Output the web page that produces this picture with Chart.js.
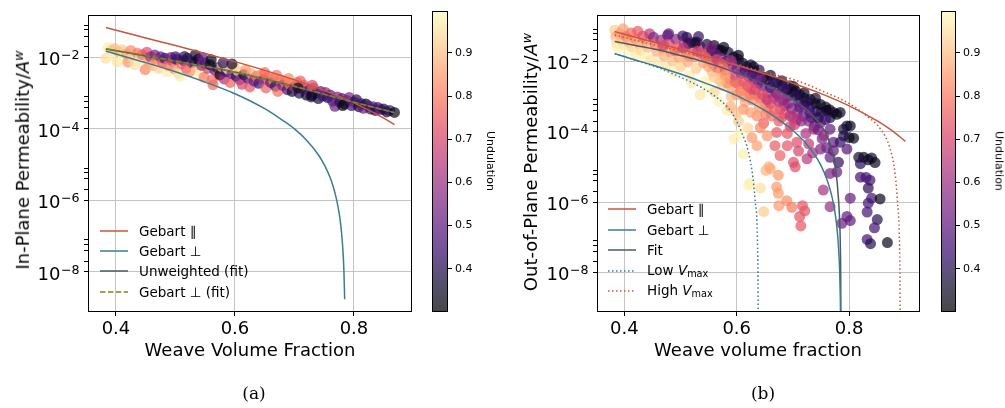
<!DOCTYPE html>
<html>
<head>
<meta charset="utf-8">
<script src="https://cdn.jsdelivr.net/npm/chart.js@4.4.0/dist/chart.umd.min.js"></script>
<style>
  body { margin: 0; background: #fff; }
  #page { position: relative; width: 1005px; height: 408px; overflow: hidden; background: #fff; font-family: 'DejaVu Sans', sans-serif; }
  canvas { position: absolute; top: 0; }
  .lbl { position: absolute; white-space: nowrap; color: #000; transform: translate(-50%, -50%); line-height: 1.2; }
  .ax { font-size: 18px; }
  .ylab { transform: translate(-50%, -50%) rotate(-90deg); }
  .cbl { font-size: 11px; transform: translate(-50%, -50%) rotate(90deg); }
  .cap { font-family: 'DejaVu Serif', serif; font-size: 17px; }
  .leg { position: absolute; font-size: 13.5px; white-space: nowrap; transform: translateY(-50%); line-height: 1.2; color: #000; }
  .sw { position: absolute; overflow: visible; }
  sub { font-size: 0.72em; vertical-align: -0.25em; }
  sup { font-size: 0.7em; vertical-align: 0.45em; }
</style>
</head>
<body>
<div id="page">
  <canvas id="chartA" width="425" height="370" style="left:0px"></canvas>
  <canvas id="cbarA" width="75" height="330" style="left:425px"></canvas>
  <canvas id="chartB" width="430" height="370" style="left:500px"></canvas>
  <canvas id="cbarB" width="71" height="330" style="left:934px"></canvas>

  <div class="lbl ax ylab" style="left:22px;top:160px">In-Plane Permeability/<i>A<sup>w</sup></i></div>
  <div class="lbl ax" style="left:250px;top:350px">Weave Volume Fraction</div>
  <div class="lbl cbl" style="left:490px;top:161px">Undulation</div>
  <div class="lbl cap" style="left:254px;top:393px">(a)</div>

  <div class="lbl ax ylab" style="left:530px;top:162px">Out-of-Plane Permeability/<i>A<sup>w</sup></i></div>
  <div class="lbl ax" style="left:758px;top:350px">Weave volume fraction</div>
  <div class="lbl cbl" style="left:999px;top:161px">Undulation</div>
  <div class="lbl cap" style="left:763px;top:393px">(b)</div>
</div>
<script>
// ---- axes ----
const xTicks = [0.4, 0.6, 0.8];
const yMajorTicks = [1e-8, 1e-6, 1e-4, 1e-2];
const yMajorExponents = ['−8', '−6', '−4', '−2'];
const yMinorSubs = [2, 4, 6, 8];
const colorbarTicks = [0.4, 0.5, 0.6, 0.7, 0.8, 0.9];
const undulationRange = [0.30, 0.997];

// ---- (a) in-plane scatter ----
const inPlaneVf = [
  0.383,0.387,0.392,0.395,0.398,0.402,0.405,0.410,0.412,0.418,
  0.420,0.425,0.428,0.432,0.436,0.440,0.444,0.449,0.452,0.455,
  0.458,0.462,0.465,0.468,0.472,0.475,0.478,0.482,0.486,0.488,
  0.492,0.495,0.498,0.502,0.505,0.508,0.510,0.514,0.518,0.520,
  0.524,0.528,0.532,0.535,0.538,0.541,0.544,0.548,0.550,0.554,
  0.558,0.562,0.563,0.566,0.570,0.573,0.575,0.578,0.582,0.585,
  0.588,0.592,0.595,0.598,0.602,0.605,0.608,0.612,0.615,0.618,
  0.622,0.625,0.628,0.632,0.636,0.640,0.644,0.648,0.652,0.655,
  0.660,0.664,0.668,0.672,0.676,0.680,0.684,0.688,0.692,0.696,
  0.700,0.704,0.708,0.712,0.716,0.720,0.724,0.728,0.732,0.736,
  0.740,0.744,0.748,0.752,0.756,0.760,0.764,0.768,0.772,0.776,
  0.780,0.784,0.788,0.792,0.796,0.800,0.804,0.808,0.812,0.816,
  0.820,0.824,0.828,0.832,0.836,0.840,0.845,0.850,0.855,0.860,
  0.868,0.500,0.515,0.533,0.545,0.560,0.580,0.595,0.650,0.670,
  0.690,0.710,0.730,0.706,0.729,0.781
];
const inPlaneK = [
  9.5e-3,1.9e-2,1.58e-2,1.12e-2,1.78e-2,7.6e-3,1.41e-2,1.66e-2,1.0e-2,1.26e-2,
  7.4e-3,1.58e-2,1.05e-2,6.3e-3,1.32e-2,8.9e-3,1.2e-2,4.6e-3,1.41e-2,7.6e-3,
  1.05e-2,6.0e-3,1.17e-2,8.3e-3,5.0e-3,1.05e-2,7.1e-3,9.5e-3,4.0e-3,6.0e-3,
  1.0e-2,7.9e-3,4.8e-3,8.9e-3,3.5e-3,3.0e-3,6.6e-3,8.3e-3,5.0e-3,9.5e-3,
  4.0e-3,7.1e-3,7.6e-3,4.5e-3,8.9e-3,3.3e-3,6.0e-3,2.8e-3,6.9e-3,5.0e-3,
  6.3e-3,2.4e-3,1.74e-3,4.5e-3,5.2e-3,3.2e-3,3.3e-3,5.6e-3,2.5e-3,4.0e-3,
  4.8e-3,2.0e-3,3.5e-3,5.2e-3,3.0e-3,4.2e-3,2.4e-3,1.78e-3,3.3e-3,4.5e-3,
  2.6e-3,1.5e-3,3.5e-3,2.2e-3,3.0e-3,1.9e-3,3.3e-3,2.4e-3,1.41e-3,2.8e-3,
  2.0e-3,2.5e-3,1.58e-3,1.12e-3,2.4e-3,1.66e-3,2.1e-3,1.26e-3,1.78e-3,1.12e-3,
  1.5e-3,2.0e-3,1.0e-3,1.32e-3,1.66e-3,8.9e-4,1.2e-3,7.9e-4,1.41e-3,1.0e-3,
  7.1e-4,1.12e-3,8.3e-4,1.05e-3,7.6e-4,8.9e-4,6.0e-4,4.3e-4,7.9e-4,5.6e-4,
  7.1e-4,5.0e-4,6.3e-4,7.6e-4,4.5e-4,5.6e-4,6.6e-4,4.2e-4,5.2e-4,3.8e-4,
  5.0e-4,4.4e-4,3.6e-4,4.2e-4,3.3e-4,4.0e-4,3.5e-4,3.6e-4,3.0e-4,3.3e-4,
  2.9e-4,1.05e-2,1.07e-2,1.17e-2,1.0e-2,8.7e-3,7.1e-3,6.6e-3,3.8e-3,3.2e-3,
  2.6e-3,2.2e-3,1.66e-3,1.41e-3,8.7e-4,4.5e-4
];
const inPlaneUnd = [
  0.95,0.97,0.93,0.98,0.90,0.96,0.88,0.92,0.99,0.86,
  0.84,0.83,0.94,0.95,0.80,0.97,0.78,0.82,0.72,0.86,
  0.60,0.88,0.55,0.82,0.93,0.50,0.76,0.45,0.97,0.80,
  0.52,0.70,0.84,0.42,0.95,0.97,0.78,0.48,0.74,0.38,
  0.82,0.55,0.40,0.90,0.34,0.99,0.60,0.80,0.42,0.68,
  0.36,0.78,0.78,0.50,0.38,0.72,0.33,0.92,0.62,0.45,
  0.96,0.76,0.55,0.90,0.40,0.94,0.58,0.70,0.36,0.85,
  0.48,0.74,0.88,0.52,0.80,0.44,0.84,0.60,0.76,0.79,
  0.50,0.82,0.42,0.78,0.80,0.55,0.77,0.46,0.80,0.36,
  0.62,0.78,0.40,0.52,0.74,0.34,0.48,0.42,0.70,0.52,
  0.36,0.50,0.44,0.58,0.40,0.50,0.46,0.52,0.55,0.42,
  0.48,0.38,0.50,0.56,0.44,0.52,0.40,0.36,0.46,0.50,
  0.34,0.48,0.42,0.50,0.37,0.45,0.52,0.40,0.36,0.44,
  0.33,0.45,0.40,0.36,0.50,0.33,0.42,0.35,0.78,0.80,
  0.82,0.76,0.72,0.34,0.33,0.33
];

// ---- (a) curves ----
const gebartParVfA = [0.383,0.42,0.45,0.50,0.55,0.60,0.65,0.70,0.75,0.80,0.85,0.868];
const gebartParKA  = [6.9e-2,4.77e-2,3.54e-2,2.16e-2,1.30e-2,7.66e-3,4.37e-3,2.37e-3,1.20e-3,5.39e-4,2.01e-4,1.32e-4];
const gebartPerpVfA = [0.383,0.42,0.45,0.50,0.55,0.60,0.65,0.68,0.70,0.72,0.74,0.75,0.76,0.765,0.77,0.775,0.778,0.78,0.782,0.783,0.784,0.7843];
const gebartPerpKA  = [1.52e-2,1.0e-2,7.2e-3,4.0e-3,2.05e-3,9.7e-4,3.7e-4,1.75e-4,1.0e-4,4.9e-5,1.9e-5,1.0e-5,4.3e-6,2.45e-6,1.2e-6,4.5e-7,1.9e-7,8.6e-8,2.7e-8,1.14e-8,2.9e-9,1.7e-9];
const unweightedFitVfA = [0.383,0.45,0.50,0.55,0.60,0.65,0.70,0.75,0.80,0.868];
const unweightedFitKA  = [1.74e-2,1.10e-2,7.9e-3,5.6e-3,3.9e-3,2.5e-3,1.55e-3,9.3e-4,5.6e-4,2.9e-4];
const gebartPerpFitVfA = [0.383,0.45,0.50,0.55,0.60,0.65,0.70,0.75,0.80,0.868];
const gebartPerpFitKA  = [1.76e-2,1.12e-2,8.0e-3,5.6e-3,3.9e-3,2.5e-3,1.56e-3,9.4e-4,5.6e-4,2.85e-4];

// ---- (b) out-of-plane scatter ----
const outPlaneVf = [
  0.383,0.385,0.386,0.388,0.392,0.395,0.398,0.400,0.403,0.406,0.409,0.412,0.415,0.418,0.421,0.424,0.427,0.430,0.433,0.436,0.439,0.442,0.445,0.448,0.452,0.455,0.458,0.461,
  0.465,0.468,0.471,0.474,0.477,0.480,0.483,0.486,0.489,0.492,0.495,0.498,0.501,0.504,0.507,0.510,0.511,0.513,0.516,0.519,0.522,0.525,0.528,0.529,0.532,0.535,0.538,0.541,0.544,0.547,0.550,0.553,0.556,0.520,0.535,0.548,0.560,0.568,0.575,0.583,0.590,
  0.560,0.568,0.577,0.585,0.595,0.603,0.610,0.618,0.625,0.632,0.640,0.648,0.526,0.556,0.574,0.603,0.514,0.479,
  0.562,0.572,0.582,0.592,0.600,0.608,0.615,0.622,0.630,0.638,0.645,
  0.558,0.565,0.572,0.580,0.588,0.596,0.604,0.612,0.618,0.626,0.634,0.642,0.650,0.600,0.615,0.589,0.612,0.636,0.648,0.671,0.625,0.600,
  0.595,0.603,0.612,0.620,0.624,0.642,0.605,0.627,0.636,0.648,0.621,
  0.642,0.654,0.657,0.652,0.671,0.674,0.675,0.689,0.698,0.668,0.677,0.701,0.704,0.725,0.717,0.721,0.712,0.714,0.707,0.660,0.674,
  0.655,0.662,0.675,0.685,0.695,0.690,0.700,0.655,0.665,0.675,0.685,0.698,0.708,0.718,0.728,0.738,0.720,0.730,0.737,0.707,0.749,0.766,0.772,0.790,0.766,0.742,0.784,0.624,0.654,0.677,
  0.660,0.670,0.680,0.690,0.700,0.710,0.720,0.730,0.740,0.750,0.760,
  0.654,0.660,0.672,0.680,0.689,0.695,0.705,0.712,0.720,0.731,0.740,0.749,0.758,0.765,0.772,0.778,0.802,0.800,0.808,0.790,0.784,0.630,0.701,0.796,
  0.796,0.772,0.760,0.766,0.781,0.778,0.766,0.754,0.766,0.802,0.796,0.787,0.802,0.749,
  0.817,0.826,0.834,0.840,0.846,0.820,0.820,0.830,0.837,0.834,0.840,0.855,0.834,0.832,0.850,0.845,0.832,0.838,0.868,
  0.583,0.592,0.598,0.607,0.613,0.620,0.628,0.633,0.640,0.646,0.652,0.660,0.667,0.672,0.680,0.682,0.692,0.695,0.703,0.712,0.715,0.723,0.733,0.745,0.752,0.758,0.745,0.755,0.728,0.710,0.690,0.735,
  0.470,0.490,0.505,0.515,0.530,0.545,0.555,0.565,0.575,0.590,0.570,0.580,0.560,0.550,
  0.628,0.643,0.665,0.685,0.705,0.725
];
const outPlaneK = [
  7.6e-2,5.0e-2,3.2e-2,2.4e-2,6.0e-2,4.0e-2,8.3e-2,2.8e-2,5.0e-2,2.0e-2,3.5e-2,6.3e-2,2.5e-2,4.5e-2,1.58e-2,7.1e-2,3.2e-2,2.0e-2,5.2e-2,1.32e-2,3.8e-2,2.5e-2,6.0e-2,1.12e-2,4.8e-2,3.0e-2,1.9e-2,8.9e-3,
  4.0e-2,2.4e-2,1.41e-2,7.1e-3,5.4e-2,3.2e-2,1.78e-2,1.0e-2,5.0e-3,4.2e-2,2.4e-2,1.26e-2,7.1e-3,5.2e-2,3.2e-2,1.78e-2,4.8e-2,9.5e-3,4.0e-3,3.5e-2,2.2e-2,1.32e-2,6.3e-3,3.5e-2,5.0e-2,2.6e-2,1.58e-2,8.9e-3,2.8e-3,3.0e-2,2.0e-2,1.12e-2,5.0e-3,2.4e-3,1.12e-3,1.78e-3,1.32e-3,7.1e-4,2.0e-3,4.0e-4,1.0e-3,
  2.8e-2,2.1e-2,2.5e-2,1.78e-2,1.32e-2,1.12e-2,8.9e-3,6.9e-3,7.9e-3,5.0e-3,5.6e-3,3.5e-3,3.3e-2,2.0e-2,2.0e-2,1.48e-2,3.2e-2,6.0e-2,
  1.58e-2,1.2e-2,1.0e-2,7.9e-3,6.0e-3,4.5e-3,5.2e-3,3.5e-3,2.8e-3,2.4e-3,2.0e-3,
  8.3e-3,6.3e-3,4.2e-3,5.6e-3,3.2e-3,4.0e-3,2.2e-3,2.6e-3,1.41e-3,1.66e-3,1.12e-3,8.9e-4,6.3e-4,1.12e-3,7.1e-4,5.2e-4,4.3e-4,2.8e-4,1.74e-4,9.5e-5,3.5e-4,3.5e-4,
  6.2e-5,2.0e-4,2.3e-5,1.26e-4,3.4e-6,2.5e-6,8.9e-5,6.8e-5,4.0e-5,5.4e-7,3.0e-6,
  1.29e-4,7.6e-5,1.0e-5,7.9e-6,2.7e-6,5.8e-6,7.9e-7,1.1e-6,7.1e-7,4.0e-5,2.1e-5,1.35e-5,1.0e-5,1.7e-5,7.9e-7,5.6e-7,3.9e-7,2.1e-7,5.0e-5,8.9e-6,1.78e-6,
  4.5e-4,2.8e-4,2.0e-4,3.2e-4,1.41e-4,8.9e-5,2.5e-4,1.26e-3,8.9e-4,7.1e-4,5.6e-4,4.5e-4,3.5e-4,2.8e-4,2.0e-4,1.41e-4,5.6e-4,3.5e-4,1.17e-4,2.2e-4,1.78e-4,1.17e-4,5.0e-5,1.17e-4,2.5e-4,3.8e-4,3.5e-4,1.12e-3,8.1e-4,4.3e-4,
  1.78e-3,1.26e-3,2.0e-3,1.0e-3,1.32e-3,7.1e-4,8.9e-4,5.0e-4,6.3e-4,3.5e-4,4.0e-4,
  3.0e-3,4.0e-3,2.5e-3,2.8e-3,1.55e-3,2.0e-3,1.41e-3,1.12e-3,1.26e-3,8.1e-4,8.9e-4,5.9e-4,5.0e-4,4.2e-4,3.5e-4,3.1e-4,1.45e-4,6.8e-5,6.5e-5,7.6e-5,5.0e-5,6.9e-3,1.9e-3,1.45e-4,
  3.2e-5,2.9e-5,3.5e-5,1.86e-5,1.35e-5,7.1e-6,6.5e-6,2.2e-6,7.4e-7,1.29e-6,3.9e-7,2.5e-7,3.0e-7,3.2e-5,
  1.86e-5,1.86e-5,1.58e-5,1.78e-5,1.32e-5,1.23e-5,5.1e-6,5.0e-6,4.2e-6,2.5e-6,1.29e-6,1.23e-6,9.3e-7,5.2e-7,3.2e-7,1.86e-7,8.7e-8,6.6e-8,7.1e-8,
  2.4e-3,1.66e-3,2.5e-3,1.41e-3,1.0e-3,2.0e-3,7.9e-4,1.58e-3,5.0e-4,1.12e-3,3.2e-4,6.3e-4,4.0e-4,1.12e-3,2.5e-4,7.9e-4,6.3e-4,2.8e-4,1.58e-4,5.0e-4,2.0e-4,8.9e-5,2.5e-4,1.12e-4,6.3e-5,2.2e-4,2.5e-4,7.9e-5,4.5e-5,2.8e-5,4.0e-5,2.5e-5,
  2.8e-2,2.0e-2,2.4e-2,1.41e-2,1.9e-2,1.32e-2,2.5e-2,1.12e-2,7.9e-3,1.05e-2,2.8e-3,4.0e-3,3.5e-3,7.1e-3,
  4.2e-3,3.2e-3,2.6e-3,1.66e-3,1.05e-3,7.1e-4
];
const outPlaneUnd = [
  0.92,0.88,0.95,0.98,0.84,0.90,0.86,0.96,0.80,0.99,0.88,0.78,0.93,0.82,0.97,0.75,0.86,0.94,0.72,0.98,0.80,0.90,0.66,0.96,0.55,0.78,0.88,0.97,
  0.62,0.80,0.88,0.96,0.50,0.70,0.84,0.91,0.98,0.58,0.76,0.86,0.93,0.45,0.64,0.80,0.40,0.88,0.97,0.52,0.72,0.83,0.92,0.36,0.42,0.60,0.76,0.86,0.98,0.38,0.66,0.80,0.90,0.97,0.96,0.99,0.94,0.98,0.92,0.97,0.90,
  0.34,0.38,0.33,0.36,0.33,0.40,0.35,0.33,0.38,0.34,0.42,0.34,0.35,0.33,0.33,0.33,0.40,0.50,
  0.50,0.55,0.48,0.58,0.50,0.56,0.46,0.60,0.52,0.58,0.48,
  0.70,0.78,0.84,0.72,0.80,0.68,0.82,0.72,0.85,0.76,0.80,0.74,0.82,0.86,0.88,0.88,0.84,0.83,0.75,0.74,0.86,0.90,
  0.97,0.92,0.98,0.94,0.97,0.95,0.99,0.85,0.86,0.92,0.98,
  0.82,0.84,0.88,0.89,0.85,0.84,0.85,0.83,0.80,0.75,0.76,0.72,0.72,0.65,0.74,0.74,0.74,0.74,0.72,0.87,0.85,
  0.82,0.78,0.75,0.72,0.70,0.74,0.66,0.62,0.70,0.58,0.65,0.55,0.60,0.52,0.56,0.50,0.48,0.45,0.60,0.65,0.55,0.50,0.50,0.40,0.38,0.42,0.34,0.72,0.62,0.70,
  0.45,0.50,0.40,0.48,0.42,0.46,0.38,0.44,0.36,0.40,0.34,
  0.33,0.36,0.34,0.38,0.33,0.36,0.33,0.37,0.34,0.33,0.36,0.33,0.35,0.33,0.36,0.33,0.34,0.33,0.33,0.38,0.42,0.34,0.35,0.36,
  0.48,0.50,0.50,0.50,0.42,0.50,0.55,0.62,0.60,0.50,0.50,0.52,0.50,0.55,
  0.36,0.34,0.33,0.35,0.33,0.40,0.45,0.45,0.45,0.40,0.45,0.33,0.45,0.45,0.40,0.45,0.45,0.40,0.33,
  0.82,0.86,0.76,0.80,0.84,0.74,0.82,0.70,0.84,0.72,0.80,0.70,0.76,0.62,0.74,0.60,0.56,0.64,0.68,0.50,0.58,0.62,0.48,0.52,0.55,0.44,0.40,0.60,0.66,0.70,0.74,0.62,
  0.70,0.78,0.66,0.82,0.70,0.74,0.55,0.68,0.78,0.62,0.90,0.86,0.92,0.86,
  0.45,0.52,0.42,0.44,0.40,0.40
];

// ---- (b) curves ----
const gebartParVfB = [0.383,0.42,0.45,0.50,0.55,0.60,0.65,0.70,0.75,0.80,0.85,0.875,0.90];
const gebartParKB  = [6.9e-2,4.77e-2,3.54e-2,2.16e-2,1.30e-2,7.66e-3,4.37e-3,2.37e-3,1.20e-3,5.39e-4,2.01e-4,1.10e-4,5.32e-5];
const gebartPerpVfB = [0.383,0.42,0.45,0.50,0.55,0.60,0.65,0.68,0.70,0.72,0.74,0.75,0.76,0.765,0.77,0.775,0.778,0.78,0.782,0.783,0.784,0.7843,0.78465];
const gebartPerpKB  = [1.64e-2,1.08e-2,7.8e-3,4.3e-3,2.2e-3,1.05e-3,4.0e-4,1.9e-4,1.08e-4,5.3e-5,2.05e-5,1.08e-5,4.6e-6,2.6e-6,1.3e-6,4.9e-7,2.05e-7,9.3e-8,2.9e-8,1.23e-8,3.1e-9,1.8e-9,5e-10];
const fitVfB = [0.383,0.42,0.46,0.50,0.538,0.57,0.60,0.63,0.66,0.69,0.71,0.73,0.745,0.757,0.765,0.772,0.777,0.780,0.782,0.7835,0.7845,0.785,0.7852];
const fitKB  = [3.6e-2,2.8e-2,2.1e-2,1.45e-2,1.0e-2,6.9e-3,4.6e-3,3.0e-3,1.86e-3,1.05e-3,6.3e-4,3.5e-4,1.9e-4,1.0e-4,5.0e-5,2.0e-5,6.3e-6,2.0e-6,7.1e-7,2.0e-7,4.0e-8,6.3e-9,5e-10];
const lowVmaxVfB = [0.383,0.42,0.46,0.50,0.52,0.544,0.57,0.591,0.609,0.621,0.629,0.633,0.636,0.637,0.6378,0.6382];
const lowVmaxKB  = [1.64e-2,1.05e-2,6.6e-3,3.5e-3,2.5e-3,1.55e-3,7.9e-4,3.5e-4,9.3e-5,2.6e-5,4.7e-6,1.02e-6,2.8e-7,6.3e-8,1.0e-8,5e-10];
const highVmaxVfB = [0.383,0.45,0.50,0.55,0.60,0.65,0.707,0.754,0.796,0.831,0.856,0.873,0.882,0.886,0.889,0.8903,0.8908];
const highVmaxKB  = [5.5e-2,3.0e-2,1.9e-2,1.2e-2,7.9e-3,4.9e-3,2.8e-3,1.38e-3,6.8e-4,2.8e-4,1.17e-4,3.2e-5,5.8e-6,1.02e-6,1.48e-7,1.0e-8,5e-10];

// ---- colours ----
const magmaStops = [[0,0,4],[20,14,54],[59,15,112],[100,26,128],[140,41,129],[183,55,121],[222,73,104],[247,112,92],[254,159,109],[254,207,146],[252,253,191]];
function magmaAt(t, a) {
  t = Math.min(1, Math.max(0, t)) * 10;
  const i = Math.min(9, Math.floor(t)), f = t - i;
  const c = magmaStops[i].map((v, k) => Math.round(v + (magmaStops[i + 1][k] - v) * f));
  return 'rgba(' + c[0] + ',' + c[1] + ',' + c[2] + ',' + a + ')';
}
function magma(u, a) {
  return magmaAt((u - undulationRange[0]) / (undulationRange[1] - undulationRange[0]), a);
}

const red = '#c9563c', teal = '#3a7c94', slate = '#4b5a64', olive = '#768a12';
const gridColor = '#c4c4c4';
const dotted = [1.5, 2.5], dashed = [5.5, 2.4];

Chart.defaults.font.family = "'DejaVu Sans', sans-serif";
Chart.defaults.color = '#000';

const framePlugin = {
  id: 'frame',
  afterDraw(chart) {
    const { ctx, chartArea: a } = chart;
    ctx.save();
    ctx.strokeStyle = '#000';
    ctx.lineWidth = 1;
    ctx.strokeRect(Math.round(a.left) + 0.5, Math.round(a.top) + 0.5,
      Math.round(a.right - a.left) - 1, Math.round(a.bottom - a.top) - 1);
    ctx.restore();
  }
};

// 10^n tick labels with a raised exponent, placed at the log scale's own tick pixels
const powerLabelPlugin = {
  id: 'powerLabels',
  afterDraw(chart) {
    const s = chart.scales.y, ctx = chart.ctx;
    ctx.save();
    ctx.fillStyle = '#000';
    ctx.textAlign = 'right';
    ctx.textBaseline = 'alphabetic';
    s.ticks.forEach(t => {
      if (!t.exp) return;
      const y = s.getPixelForValue(t.value);
      const right = s.right - 8.5;
      ctx.font = "12.6px 'DejaVu Sans'";
      const ew = ctx.measureText(t.exp).width;
      ctx.fillText(t.exp, right, y + 1.7);
      ctx.font = "18px 'DejaVu Sans'";
      ctx.fillText('10', right - ew - 0.5, y + 7.7);
    });
    ctx.restore();
  }
};

const gradientPlugin = {
  id: 'cbar',
  beforeDatasetsDraw(chart) {
    const { ctx, chartArea: a } = chart;
    const y = chart.scales.y;
    const g = ctx.createLinearGradient(0, y.getPixelForValue(undulationRange[0]), 0, y.getPixelForValue(undulationRange[1]));
    for (let i = 0; i <= 10; i++) g.addColorStop(i / 10, magmaAt(i / 10, 0.72));
    ctx.save();
    ctx.fillStyle = g;
    ctx.fillRect(a.left, a.top, a.right - a.left, a.bottom - a.top);
    ctx.restore();
  }
};

function yTickList(min, max) {
  const out = [];
  yMajorTicks.forEach((m, i) => {
    out.push({ value: m, exp: yMajorExponents[i] });
    yMinorSubs.forEach(s => out.push({ value: m * s }));
  });
  return out.filter(t => t.value >= min && t.value <= max).sort((p, q) => p.value - q.value);
}

function makePanel(id, o) {
  const lines = o.lines.map(l => ({
    type: 'line',
    data: l.vf.map((x, j) => ({ x, y: l.k[j] })),
    borderColor: l.color,
    borderWidth: 1.5,
    borderDash: l.dash || [],
    borderCapStyle: 'butt',
    pointRadius: 0,
    fill: false,
    cubicInterpolationMode: 'monotone',
    clip: 0,
    order: l.order
  }));
  const pts = {
    type: 'scatter',
    data: o.vf.map((x, j) => ({ x, y: o.k[j] })),
    pointRadius: 5.5,
    pointHoverRadius: 5.5,
    pointBorderWidth: 0,
    pointBorderColor: 'rgba(0,0,0,0)',
    pointBackgroundColor: o.und.map(u => magma(u, 0.7)),
    clip: 0,
    order: 50
  };
  return new Chart(document.getElementById(id), {
    type: 'scatter',
    data: { datasets: [...lines, pts] },
    options: {
      responsive: false,
      animation: false,
      events: [],
      layout: { padding: { left: 0, top: 11, right: o.padRight, bottom: 0 } },
      plugins: { legend: { display: false }, tooltip: { enabled: false } },
      scales: {
        x: {
          type: 'linear', min: o.xMin, max: o.xMax,
          afterBuildTicks: s => { s.ticks = xTicks.map(v => ({ value: v })); },
          afterFit: s => { s.height = 58; },
          grid: { color: gridColor, lineWidth: 1, tickColor: '#000', tickLength: 4 },
          border: { display: false },
          ticks: { autoSkip: false, maxRotation: 0, padding: 3, font: { size: 18 }, color: '#000', callback: v => v.toFixed(1) }
        },
        y: {
          type: 'logarithmic', min: o.yMin, max: o.yMax,
          afterBuildTicks: s => { s.ticks = yTickList(o.yMin, o.yMax); },
          afterFit: s => { s.width = o.yAxisW; },
          grid: { color: c => (c.tick && c.tick.exp) ? gridColor : 'rgba(0,0,0,0)', lineWidth: 1, tickColor: '#000', tickLength: 4 },
          border: { display: false },
          ticks: { autoSkip: false, padding: 4, font: { size: 18 }, color: '#000', callback: () => '' }
        }
      }
    },
    plugins: [framePlugin, powerLabelPlugin]
  });
}

function makeColorbar(id, o) {
  return new Chart(document.getElementById(id), {
    type: 'scatter',
    data: { datasets: [] },
    options: {
      responsive: false,
      animation: false,
      events: [],
      layout: { padding: { left: o.padLeft, top: 11, right: 0, bottom: 18 } },
      plugins: { legend: { display: false }, tooltip: { enabled: false } },
      scales: {
        x: { display: false },
        y: {
          position: 'right', min: undulationRange[0], max: undulationRange[1],
          afterBuildTicks: s => { s.ticks = colorbarTicks.map(v => ({ value: v })); },
          afterFit: s => { s.width = o.axisW; },
          grid: { drawOnChartArea: false, color: '#000', tickLength: 4 },
          border: { display: false },
          ticks: { autoSkip: false, padding: 3, font: { size: 11 }, color: '#000', callback: v => v.toFixed(1) }
        }
      }
    },
    plugins: [gradientPlugin, framePlugin]
  });
}

function addLegend(items, lineX, textX, y0, dy) {
  const page = document.getElementById('page');
  const ns = 'http://www.w3.org/2000/svg';
  items.forEach((it, i) => {
    const y = y0 + i * dy;
    const svg = document.createElementNS(ns, 'svg');
    svg.setAttribute('class', 'sw');
    svg.setAttribute('width', '28');
    svg.setAttribute('height', '4');
    svg.style.left = lineX + 'px';
    svg.style.top = (y - 2) + 'px';
    const ln = document.createElementNS(ns, 'line');
    ln.setAttribute('x1', '0'); ln.setAttribute('y1', '2');
    ln.setAttribute('x2', '28'); ln.setAttribute('y2', '2');
    ln.setAttribute('stroke', it.color);
    ln.setAttribute('stroke-width', '1.5');
    if (it.dash) ln.setAttribute('stroke-dasharray', it.dash.join(' '));
    svg.appendChild(ln);
    page.appendChild(svg);
    const t = document.createElement('div');
    t.className = 'leg';
    t.style.left = textX + 'px';
    t.style.top = y + 'px';
    t.innerHTML = it.label;
    page.appendChild(t);
  });
}

const linesA = [
  { label: 'Gebart ∥', vf: gebartParVfA, k: gebartParKA, color: red, order: 3 },
  { label: 'Gebart ⊥', vf: gebartPerpVfA, k: gebartPerpKA, color: teal, order: 2 },
  { label: 'Unweighted (fit)', vf: unweightedFitVfA, k: unweightedFitKA, color: slate, order: 1 },
  { label: 'Gebart ⊥ (fit)', vf: gebartPerpFitVfA, k: gebartPerpFitKA, color: olive, dash: dashed, order: 0 }
];
const linesB = [
  { label: 'Gebart ∥', vf: gebartParVfB, k: gebartParKB, color: red, order: 0 },
  { label: 'Gebart ⊥', vf: gebartPerpVfB, k: gebartPerpKB, color: teal, order: 1 },
  { label: 'Fit', vf: fitVfB, k: fitKB, color: slate, order: 2 },
  { label: 'Low <i>V</i><sub>max</sub>', vf: lowVmaxVfB, k: lowVmaxKB, color: teal, dash: dotted, order: 3 },
  { label: 'High <i>V</i><sub>max</sub>', vf: highVmaxVfB, k: highVmaxKB, color: red, dash: dotted, order: 4 }
];

makePanel('chartA', {
  lines: linesA, vf: inPlaneVf, k: inPlaneK, und: inPlaneUnd,
  xMin: 0.353, xMax: 0.8975, yMin: 7.5e-10, yMax: 0.157, yAxisW: 88, padRight: 13
});
makePanel('chartB', {
  lines: linesB, vf: outPlaneVf, k: outPlaneK, und: outPlaneUnd,
  xMin: 0.3515, xMax: 0.926, yMin: 7.6e-10, yMax: 0.207, yAxisW: 97, padRight: 10
});
makeColorbar('cbarA', { padLeft: 7, axisW: 52 });
makeColorbar('cbarB', { padLeft: 7, axisW: 49 });

addLegend(linesA, 100, 139, 231, 20.2);
addLegend(linesB, 608, 647, 209.3, 20.4);
</script>
</body>
</html>
